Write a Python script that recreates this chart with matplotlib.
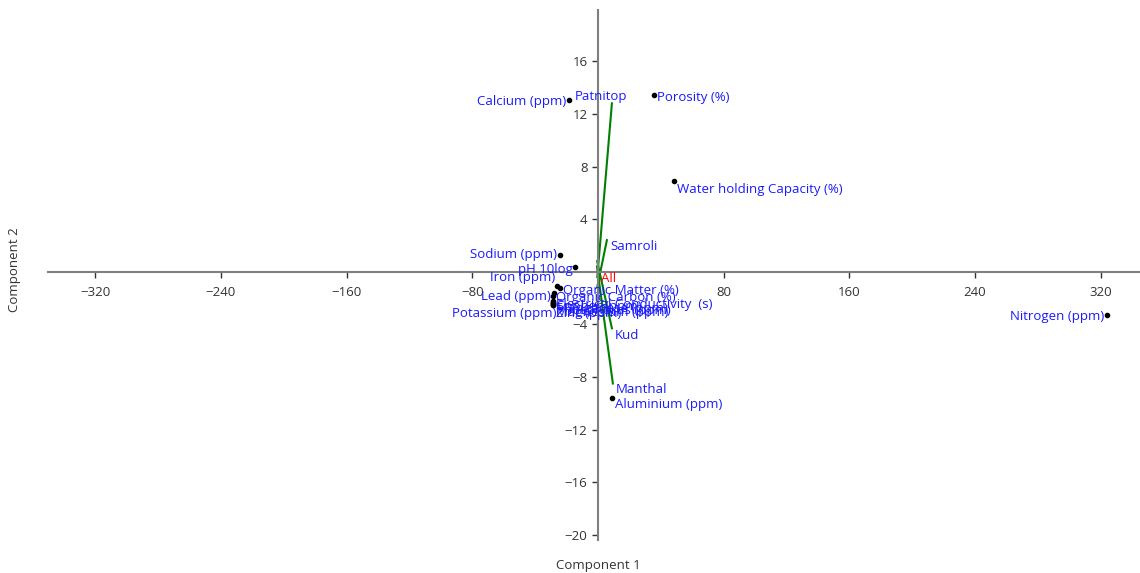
import matplotlib.pyplot as plt

plt.rcParams['font.family'] = ['Open Sans', 'DejaVu Sans']

# variable points (loadings)
names = ["Calcium (ppm)", "Porosity (%)", "Water holding Capacity (%)", "Sodium (ppm)",
         "pH 10log", "Iron (ppm)", "Organic Matter (%)", "Lead (ppm)", "Organic Carbon (%)",
         "Potassium (ppm)", "Electrical Conductivity  (s)", "Magnesium (ppm)",
         "Phosphorus (ppm)", "Copper (ppm)", "Zinc (ppm)", "Manganese (ppm)",
         "Nitrogen (ppm)", "Aluminium (ppm)"]
comp1 = [-18.5, 35.6, 48.4, -24.2, -14.6, -26.3, -24.0, -28.0, -28.6, -28.6,
         -28.4, -28.5, -28.6, -28.3, -28.5, -28.4, 324.0, 8.9]
comp2 = [13.05, 13.4, 6.9, 1.3, 0.35, -1.05, -1.25, -1.6, -1.85, -2.2,
         -2.3, -2.45, -2.5, -2.35, -2.55, -2.4, -3.3, -9.6]

# group lines (start, end) and labels
groups = ["Patnitop", "Samroli", "Kud", "Manthal"]
g_x0 = [-0.4, -0.5, -0.5, -0.6]
g_y0 = [-0.4, -1.2, 0.8, 0.4]
g_x1 = [8.9, 5.7, 8.9, 9.5]
g_y1 = [12.8, 2.4, -4.3, -8.5]

# label placement (pixels offset, alignment) per point
lab_dx = [-3, 3, 3, -3, -2, -1, 3, -3, 3, 4, 3, 3, 3, 3, 3, 3, -3, 3]
lab_dy = [-1, -2, -9, 0, -2, 8, -2, -4, -1, -13, -3, -9, -6, -4, -8, -5, -1, -7]
lab_ha = ["right", "left", "left", "right", "right", "right", "left", "right", "left",
          "right", "left", "left", "left", "left", "left", "left", "right", "left"]
g_dx = [15, 3, 3, 3]
g_dy = [7, -6, -7, -6]
g_ha = ["right", "left", "left", "left"]

blue = "#1a1aff"
grey = "#7f7f7f"

fig = plt.figure(figsize=(11.4, 5.73), dpi=100)
ax = fig.add_axes([48 / 1140, 1 - 540 / 573, 1 - 48 / 1140, 530 / 573])
ax.set_xlim(-350, 345)
ax.set_ylim(-20.4, 19.9)

for i in range(len(groups)):
    ax.plot([g_x0[i], g_x1[i]], [g_y0[i], g_y1[i]], color="#008000", lw=1.5, zorder=2)
    ax.annotate(groups[i], (g_x1[i], g_y1[i]), xytext=(g_dx[i], g_dy[i]), textcoords="offset pixels",
                color=blue, fontsize=9.5, ha=g_ha[i], va="center")

ax.scatter(comp1, comp2, s=9, color="black", zorder=3)
for i, n in enumerate(names):
    ax.annotate(n, (comp1[i], comp2[i]), xytext=(lab_dx[i], lab_dy[i]), textcoords="offset pixels",
                color=blue, fontsize=9.5, ha=lab_ha[i], va="center", zorder=4)

ax.annotate("All", (0, 0), xytext=(3, -7), textcoords="offset pixels",
            color="red", fontsize=9.5, ha="left", va="center")

for s in ["top", "right"]:
    ax.spines[s].set_visible(False)
ax.spines["left"].set_position(("data", 0))
ax.spines["bottom"].set_position(("data", 0))
for s in ["left", "bottom"]:
    ax.spines[s].set_color(grey)
    ax.spines[s].set_linewidth(1.5)

ax.set_xticks([-320, -240, -160, -80, 80, 160, 240, 320])
ax.set_yticks([-20, -16, -12, -8, -4, 4, 8, 12, 16])
ax.tick_params(colors="#333333", labelsize=9.5, length=4, width=1)
ax.tick_params(axis="x", pad=6)

fig.text(598 / 1140, 1 - 565 / 573, "Component 1", ha="center", va="center",
         fontsize=9.5, color="#333333")
fig.text(15 / 1140, 1 - 270 / 573, "Component 2", ha="center", va="center",
         rotation=90, fontsize=9.5, color="#333333")

fig.savefig("out.png", dpi=100)
